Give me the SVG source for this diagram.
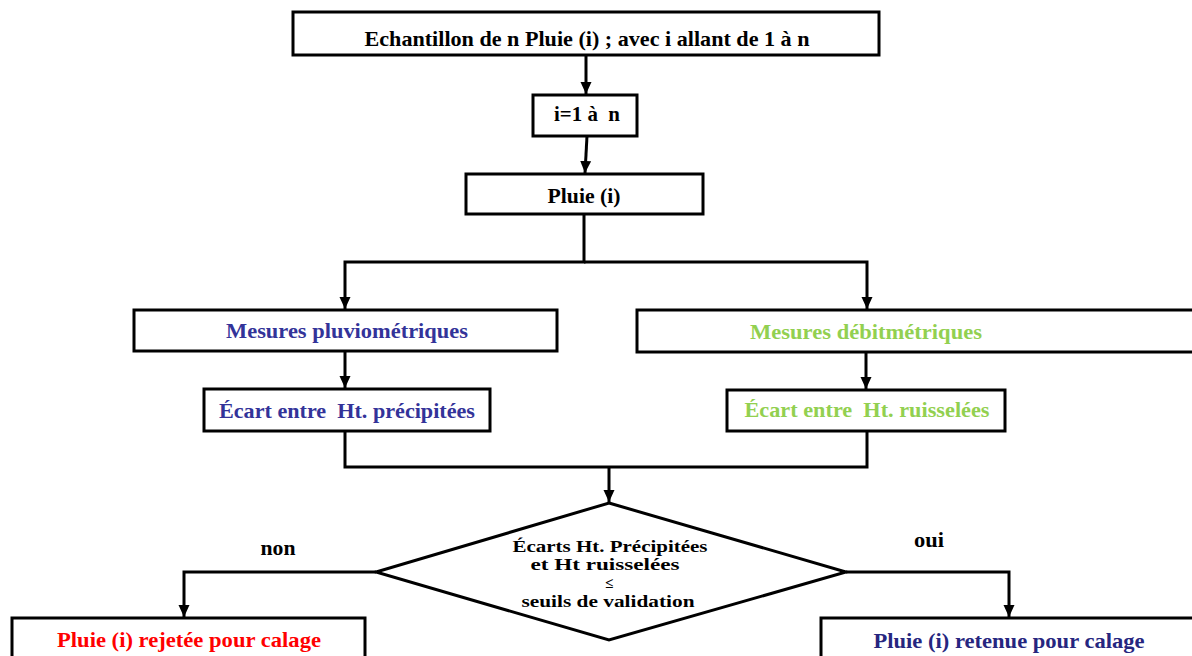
<svg xmlns="http://www.w3.org/2000/svg" width="1192" height="656" viewBox="0 0 1192 656">
<style>
.box{fill:#fff;stroke:#000;stroke-width:3}
.ln{fill:none;stroke:#000;stroke-width:3}
.t{font-family:"Liberation Serif","Times New Roman",serif;font-weight:bold;font-size:22px;text-anchor:middle;white-space:pre}
.d{font-size:17px}
.blue{fill:#333399}
.green{fill:#92D050}
.red{fill:#FF0000}
.navy{fill:#26267F}
</style>
<defs>
<marker id="ah" markerUnits="userSpaceOnUse" markerWidth="14" markerHeight="14" viewBox="0 0 14 14" refX="12" refY="7" orient="auto">
<path d="M0,1.5 L12,7 L0,12.5 Z" fill="#000"/>
</marker>
</defs>
<rect width="1192" height="656" fill="#fff"/>
<g id="connectors">
<path class="ln" d="M586,55 V94" marker-end="url(#ah)"/>
<path class="ln" d="M587,136 L585,173" marker-end="url(#ah)"/>
<path class="ln" d="M584,214 V262 H345 V309" marker-end="url(#ah)"/>
<path class="ln" d="M584,262 H867 V309" marker-end="url(#ah)"/>
<path class="ln" d="M345,351 V388" marker-end="url(#ah)"/>
<path class="ln" d="M866,352 V389" marker-end="url(#ah)"/>
<path class="ln" d="M345,431 V467 H867 V431"/>
<path class="ln" d="M609,467 V502" marker-end="url(#ah)"/>
<path class="ln" d="M376,572 H184 V617" marker-end="url(#ah)"/>
<path class="ln" d="M846,572 H1009 V617" marker-end="url(#ah)"/>
<text class="t" x="278" y="555" textLength="35" lengthAdjust="spacingAndGlyphs">non</text>
<text class="t" x="929" y="547" textLength="30" lengthAdjust="spacingAndGlyphs">oui</text>
</g>
<g id="n-echantillon">
<rect class="box" x="293" y="12" width="586" height="43"/>
<text class="t" x="587" y="46" textLength="445" lengthAdjust="spacingAndGlyphs">Echantillon de n Pluie (i) ; avec i allant de 1 à n</text>
</g>
<g id="n-boucle">
<rect class="box" x="533" y="95" width="104" height="41"/>
<text class="t" x="587" y="121" textLength="66" lengthAdjust="spacingAndGlyphs">i=1 à  n</text>
</g>
<g id="n-pluie">
<rect class="box" x="466" y="174" width="237" height="40"/>
<text class="t" x="584" y="203" textLength="73" lengthAdjust="spacingAndGlyphs">Pluie (i)</text>
</g>
<g id="n-pluvio">
<rect class="box" x="134" y="310" width="423" height="41"/>
<text class="t blue" x="347" y="338" textLength="242" lengthAdjust="spacingAndGlyphs">Mesures pluviométriques</text>
</g>
<g id="n-debit">
<rect class="box" x="637" y="310" width="565" height="42"/>
<text class="t green" x="866" y="339" textLength="232" lengthAdjust="spacingAndGlyphs">Mesures débitmétriques</text>
</g>
<g id="n-ecart-precip">
<rect class="box" x="204" y="389" width="286" height="42"/>
<text class="t blue" x="347" y="418" textLength="256" lengthAdjust="spacingAndGlyphs">Écart entre  Ht. précipitées</text>
</g>
<g id="n-ecart-ruiss">
<rect class="box" x="727" y="390" width="278" height="41"/>
<text class="t green" x="867" y="417" textLength="245" lengthAdjust="spacingAndGlyphs">Écart entre  Ht. ruisselées</text>
</g>
<g id="n-decision">
<polygon class="box" points="609,503 846,572 609,640 376,572"/>
<text class="t d" x="610" y="552" textLength="195" lengthAdjust="spacingAndGlyphs">Écarts Ht. Précipitées</text>
<text class="t d" x="605" y="570" textLength="149" lengthAdjust="spacingAndGlyphs">et Ht ruisselées</text>
<text class="t d" x="609" y="588" style="font-size:15px">≤</text>
<text class="t d" x="608" y="607" textLength="173" lengthAdjust="spacingAndGlyphs">seuils de validation</text>
</g>
<g id="n-rejetee">
<rect class="box" x="12" y="618" width="353" height="50"/>
<text class="t red" x="189" y="647" textLength="264" lengthAdjust="spacingAndGlyphs">Pluie (i) rejetée pour calage</text>
</g>
<g id="n-retenue">
<rect class="box" x="821" y="618" width="380" height="50"/>
<text class="t navy" x="1009" y="648" textLength="271" lengthAdjust="spacingAndGlyphs">Pluie (i) retenue pour calage</text>
</g>
</svg>
